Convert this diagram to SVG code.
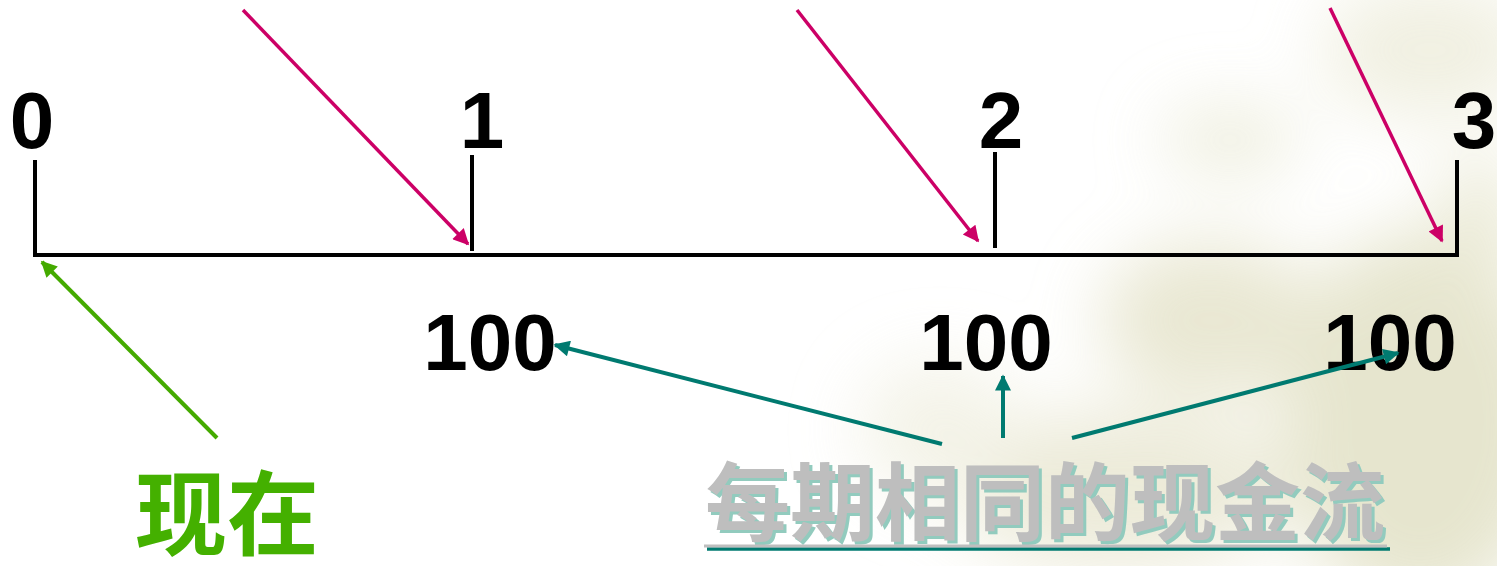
<svg xmlns="http://www.w3.org/2000/svg" width="1497" height="566" viewBox="0 0 1497 566">
<style>
.num{font-family:"Liberation Sans",Arial,sans-serif;font-weight:bold;fill:#000;text-anchor:middle}
.axis{stroke:#000;stroke-width:4;fill:none}
.mag{stroke:#CC0066;stroke-width:3.5;fill:none}
.grn{stroke:#44AA00;stroke-width:4;fill:none}
.teal{stroke:#007A70;stroke-width:4;fill:none}
.cjk{font-family:"Liberation Sans","Noto Sans CJK SC",sans-serif;font-weight:bold}
</style>
<defs>
<marker id="mGrn" viewBox="0 0 10 10" refX="9" refY="5" markerWidth="20" markerHeight="16" markerUnits="userSpaceOnUse" orient="auto"><path d="M0,0 L10,5 L0,10 z" fill="#44AA00"/></marker>
<marker id="mTeal" viewBox="0 0 10 10" refX="9" refY="5" markerWidth="20" markerHeight="16" markerUnits="userSpaceOnUse" orient="auto"><path d="M0,0 L10,5 L0,10 z" fill="#007A70"/></marker>
<marker id="mM" viewBox="0 0 10 10" refX="9" refY="5" markerWidth="20" markerHeight="16" markerUnits="userSpaceOnUse" orient="auto"><path d="M0,0 L10,5 L0,10 z" fill="#CC0066"/></marker>
<filter id="blur" x="-50%" y="-50%" width="200%" height="200%"><feGaussianBlur stdDeviation="35"/></filter>
</defs>
<rect width="1497" height="566" fill="#ffffff"/>
<g id="background" filter="url(#blur)" opacity="0.75">
<ellipse cx="1430" cy="50" rx="110" ry="70" fill="#ECEBD8"/>
<ellipse cx="1230" cy="140" rx="70" ry="35" fill="#E8E8D2"/>
<ellipse cx="1420" cy="420" rx="140" ry="190" fill="#DEDDBE"/>
<ellipse cx="1210" cy="320" rx="110" ry="80" fill="#E2E0C4"/>
<ellipse cx="1120" cy="490" rx="170" ry="80" fill="#E6E4CC"/>
<ellipse cx="940" cy="430" rx="80" ry="70" fill="#F0EFE0"/>
<ellipse cx="1480" cy="230" rx="40" ry="80" fill="#E4E3C8"/>
</g>
<g id="timeline">
<path class="axis" d="M35,160 V255 H1457 V160"/>
<line class="axis" x1="472" y1="155" x2="472" y2="251"/>
<line class="axis" x1="995" y1="152" x2="995" y2="248"/>
</g>
<g id="label-0"><text class="num" x="32" y="148" font-size="80">0</text></g>
<g id="label-1"><text class="num" x="482" y="148" font-size="80">1</text></g>
<g id="label-2"><text class="num" x="1001" y="148" font-size="80">2</text></g>
<g id="label-3"><text class="num" x="1474" y="148" font-size="80">3</text></g>
<g id="cf-1"><text class="num" x="490" y="370" font-size="80">100</text></g>
<g id="cf-2"><text class="num" x="986" y="370" font-size="80">100</text></g>
<g id="cf-3"><text class="num" x="1390" y="370" font-size="80">100</text></g>
<g id="now"><text class="cjk" x="227" y="548" font-size="92" fill="#44B000" text-anchor="middle">现在</text></g>
<g id="annuity">
<text class="cjk" x="1048" y="537" font-size="85" fill="#92CBBE" text-anchor="middle">每期相同的现金流</text>
<text class="cjk" x="1045" y="534" font-size="85" fill="#BEBEBE" text-anchor="middle">每期相同的现金流</text>
<line x1="707" y1="549" x2="1390" y2="549" stroke="#007A70" stroke-width="3.5"/>
<line x1="704" y1="546" x2="1387" y2="546" stroke="#BEBEBE" stroke-width="3"/>
</g>
<g id="connectors">
<line class="mag" x1="243" y1="10" x2="468" y2="244" marker-end="url(#mM)"/>
<line class="mag" x1="797" y1="10" x2="978" y2="241" marker-end="url(#mM)"/>
<line class="mag" x1="1330" y1="8" x2="1442" y2="241" marker-end="url(#mM)"/>
<line class="grn" x1="217" y1="438" x2="42" y2="262" marker-end="url(#mGrn)"/>
<line class="teal" x1="942" y1="444" x2="555" y2="345" marker-end="url(#mTeal)"/>
<line class="teal" x1="1003" y1="438" x2="1003" y2="376" marker-end="url(#mTeal)"/>
<line class="teal" x1="1072" y1="438" x2="1398" y2="353" marker-end="url(#mTeal)"/>
</g>
</svg>
